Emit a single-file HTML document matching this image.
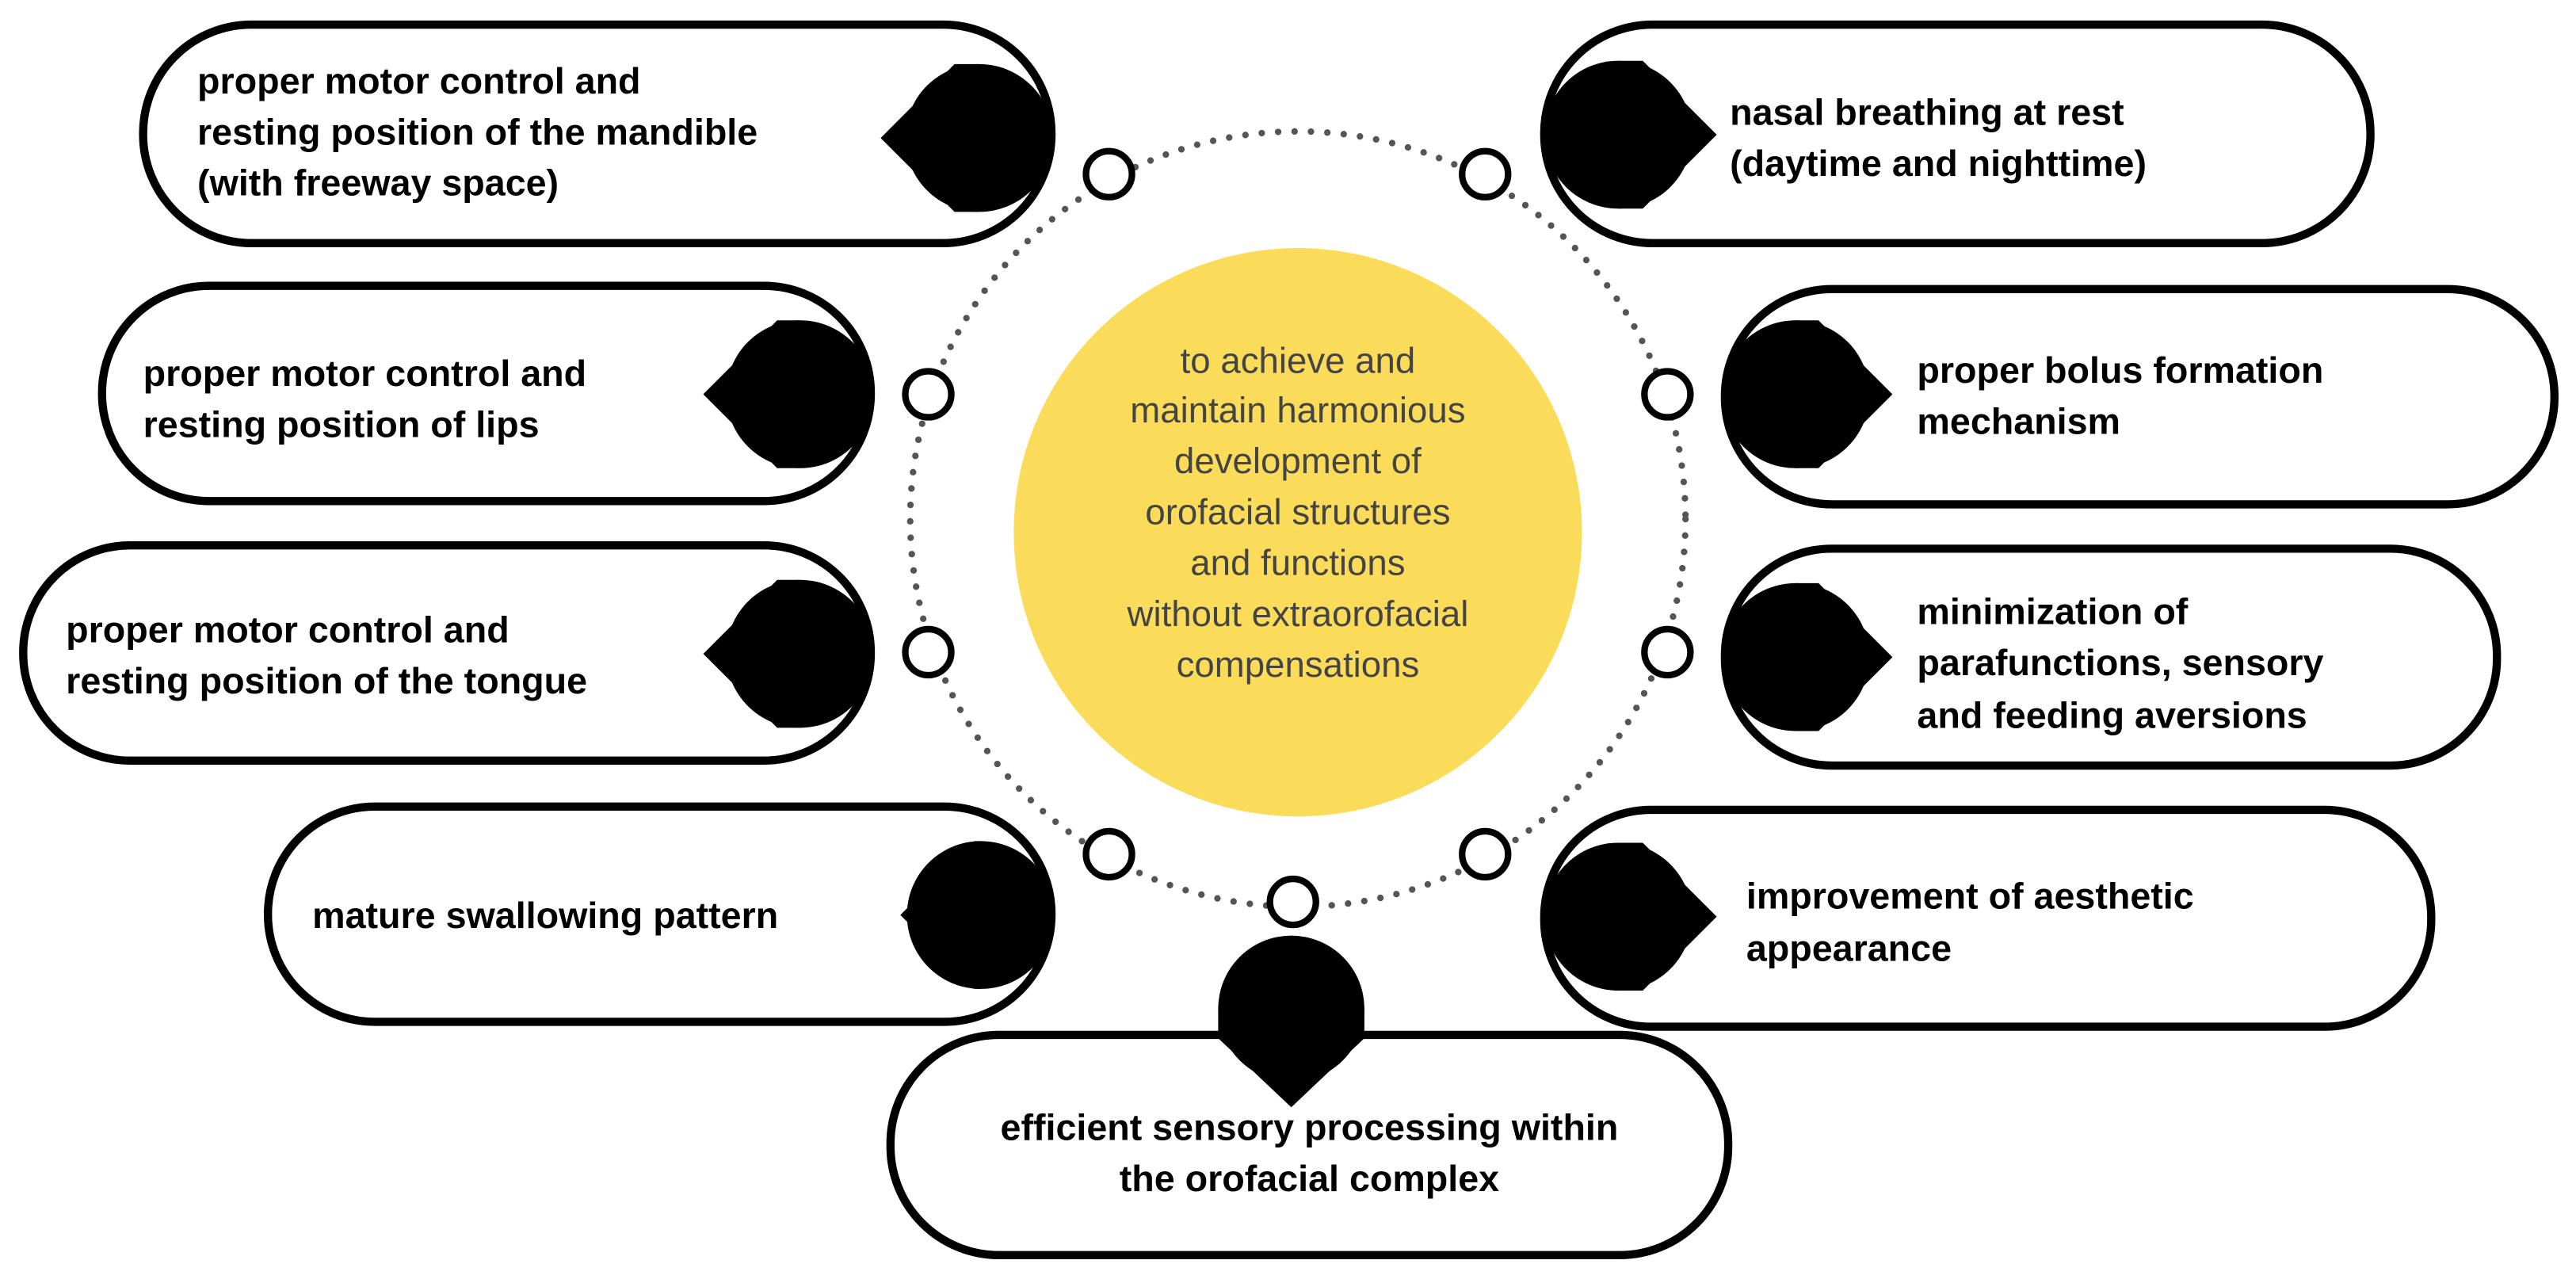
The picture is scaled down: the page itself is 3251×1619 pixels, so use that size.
<!DOCTYPE html>
<html><head><meta charset="utf-8"><style>
html,body{margin:0;padding:0;background:#fff;}
svg{display:block;}
text{font-family:"Liberation Sans",sans-serif;}
.b{font-weight:bold;font-size:22.5px;fill:#000;}
.c{font-size:22px;fill:#444;}
</style></head><body>
<svg width="3251" height="1619" viewBox="0 0 1568 781" xmlns="http://www.w3.org/2000/svg">
<rect width="1568" height="781" fill="#fff"/>
<circle cx="790" cy="316" r="236" fill="none" stroke="#555" stroke-width="4" stroke-dasharray="0 10" stroke-linecap="round"/>
<circle cx="790" cy="324" r="173" fill="#FBDC5A"/>
<g class="c" text-anchor="middle">
<text x="790" y="227">to achieve and</text>
<text x="790" y="257">maintain harmonious</text>
<text x="790" y="288">development of</text>
<text x="790" y="319">orofacial structures</text>
<text x="790" y="350">and functions</text>
<text x="790" y="381">without extraorofacial</text>
<text x="790" y="412">compensations</text>
</g>
<g fill="#fff" stroke="#000" stroke-width="4">
<circle cx="675" cy="106" r="14"/><circle cx="904" cy="106" r="14"/>
<circle cx="565" cy="240" r="14"/><circle cx="1015" cy="240" r="14"/>
<circle cx="565" cy="397" r="14"/><circle cx="1015" cy="397" r="14"/>
<circle cx="675" cy="520" r="14"/><circle cx="904" cy="520" r="14"/>
<circle cx="787" cy="549" r="14"/>
</g>
<g fill="#fff" stroke="#000" stroke-width="5">
<rect x="87" y="15" width="553" height="133" rx="66" ry="66"/>
<rect x="62" y="174" width="468" height="131" rx="65" ry="65"/>
<rect x="14" y="332" width="516" height="131" rx="65" ry="65"/>
<rect x="163" y="491" width="477" height="131" rx="65" ry="65"/>
<rect x="940" y="15" width="503" height="133" rx="66" ry="66"/>
<rect x="1050" y="176" width="505" height="131" rx="65" ry="65"/>
<rect x="1050" y="334" width="470" height="132" rx="65" ry="65"/>
<rect x="940" y="493" width="540" height="132" rx="65" ry="65"/>
<rect x="542" y="630" width="510" height="134" rx="66" ry="66"/>
</g>
<g fill="#000">
<circle cx="596" cy="84" r="45"/><polygon points="536,84 581,39 596,39 596,129 581,129"/>
<circle cx="487" cy="240" r="45"/><polygon points="428,240 473,195 487,195 487,285 473,285"/>
<circle cx="487" cy="398" r="45"/><polygon points="428,398 473,353 487,353 487,443 473,443"/>
<circle cx="597" cy="557" r="45"/><polygon points="548,557 593,512 597,512 597,602 593,602"/>
<circle cx="985" cy="82" r="45"/><polygon points="1045,82 1000,37 985,37 985,127 1000,127"/>
<circle cx="1093" cy="240" r="45"/><polygon points="1152,240 1107,195 1093,195 1093,285 1107,285"/>
<circle cx="1093" cy="400" r="45"/><polygon points="1152,400 1107,355 1093,355 1093,445 1107,445"/>
<circle cx="985" cy="558" r="45"/><polygon points="1045,558 1000,513 985,513 985,603 1000,603"/>
<circle cx="786" cy="614" r="44.5"/><polygon points="741.5,614 830.5,614 830.5,632 786,674 741.5,632"/>
</g>
<g class="b">
<text x="120" y="57">proper motor control and</text>
<text x="120" y="88">resting position of the mandible</text>
<text x="120" y="119">(with freeway space)</text>
<text x="87" y="235">proper motor control and</text>
<text x="87" y="266">resting position of lips</text>
<text x="40" y="391">proper motor control and</text>
<text x="40" y="422">resting position of the tongue</text>
<text x="190" y="565">mature swallowing pattern</text>
<text x="1053" y="76">nasal breathing at rest</text>
<text x="1053" y="107">(daytime and nighttime)</text>
<text x="1167" y="233">proper bolus formation</text>
<text x="1167" y="264">mechanism</text>
<text x="1167" y="380">minimization of</text>
<text x="1167" y="411">parafunctions, sensory</text>
<text x="1167" y="443">and feeding aversions</text>
<text x="1063" y="553">improvement of aesthetic</text>
<text x="1063" y="585">appearance</text>
<text x="797" y="694" text-anchor="middle">efficient sensory processing within</text>
<text x="797" y="725" text-anchor="middle">the orofacial complex</text>
</g>
</svg>
</body></html>
